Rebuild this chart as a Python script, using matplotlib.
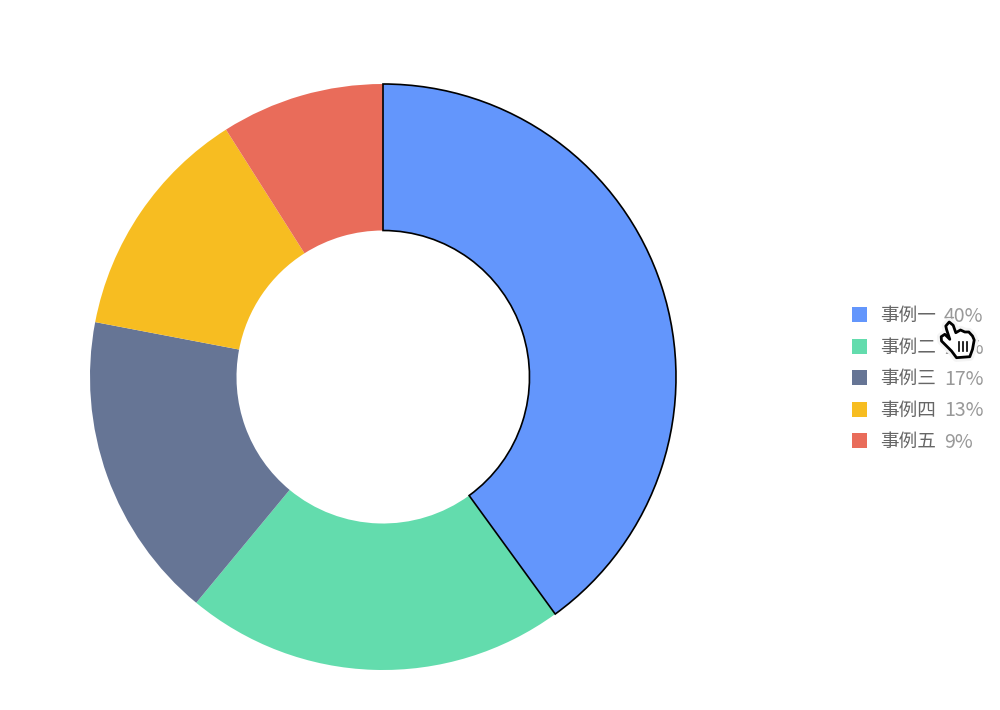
import matplotlib
matplotlib.use('Agg')
import matplotlib.pyplot as plt
from matplotlib.patches import Rectangle, Polygon

plt.rcParams['font.family'] = ['Noto Sans CJK SC', 'DejaVu Sans']

names = ['事例一', '事例二', '事例三', '事例四', '事例五']
values = [40, 21, 17, 13, 9]
labels = ['40%', '21%', '17%', '13%', '9%']
colors = ['#6396fc', '#63dcad', '#667595', '#f7bd21', '#e96c5a']

fig = plt.figure(figsize=(10, 7.1), dpi=100)

# donut, 586px wide centred on (383, 377)
ax = fig.add_axes([90 / 1000, (710 - 670) / 710, 586 / 1000, 586 / 710])
wedges, _ = ax.pie(values, colors=colors, startangle=90, counterclock=False,
                   radius=1.0, wedgeprops={'width': 0.5, 'linewidth': 0})
wedges[0].set_edgecolor('black')
wedges[0].set_linewidth(1.2)
wedges[0].set_zorder(5)
ax.set_xlim(-1, 1)
ax.set_ylim(-1, 1)

# overlay in pixel coords for the legend and the cursor
ov = fig.add_axes([0, 0, 1, 1])
ov.set_xlim(0, 1000)
ov.set_ylim(710, 0)
ov.axis('off')
ov.patch.set_alpha(0)

for i in range(len(names)):
    y = 315 + i * 31.5
    ov.add_patch(Rectangle((852, y - 8), 15, 15, facecolor=colors[i], edgecolor='none'))
    ov.text(880, y + 1, names[i], fontsize=13.4, color='#666666', va='center', ha='left')
    ov.text(944, y + 1.5, labels[i], fontsize=14, color='#999999', va='center', ha='left')

# hand cursor sits on top of the 21% label
hand = [(945.8, 326), (949.2, 322), (953.2, 325.3), (955.8, 332.7), (960.5, 330), (964.8, 332),
        (968.8, 332), (972.5, 336), (974.2, 340), (972.5, 349.3), (969.8, 356.7), (956.5, 357.7),
        (951.5, 351), (941.5, 341), (941.2, 336.7), (944.8, 334.3), (949.8, 339.3), (946.5, 329.3)]
ov.add_patch(Polygon(hand, closed=True, facecolor='white', edgecolor='#f4f4f4', linewidth=6,
                     joinstyle='round', zorder=9))
ov.add_patch(Polygon(hand, closed=True, facecolor='white', edgecolor='black', linewidth=2,
                     joinstyle='round', zorder=10))
for x in [959.2, 963.2, 967.2]:
    ov.plot([x, x], [342, 351], color='black', linewidth=1.2, zorder=11)

fig.savefig('out.png', dpi=100)
